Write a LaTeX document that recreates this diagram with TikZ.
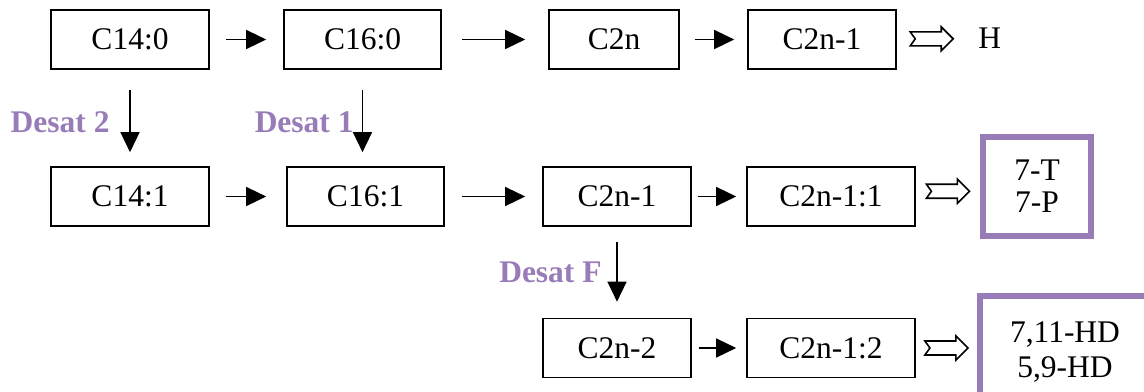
\documentclass[tikz,border=0pt]{standalone}
\usepackage{fontspec}
\setmainfont{Liberation Serif}
\usetikzlibrary{arrows.meta,calc}
\definecolor{desatpurple}{RGB}{152,124,184}

\begin{document}
\begin{tikzpicture}[x=0.5pt,y=-0.5pt,
    font=\fontsize{15.75}{18}\selectfont,
    acid/.style={draw,line width=0.8pt,minimum height=29.5pt,inner sep=0pt},
    product/.style={draw=desatpurple,line width=3pt,align=center,inner sep=0pt},
    flow/.style={line width=0.65pt,-{Triangle[length=10pt,width=9.5pt]}},
    desat/.style={text=desatpurple,font=\fontsize{15.75}{18}\selectfont\bfseries,inner sep=0pt},
    dblarrow/.pic={\draw[line width=0.8pt,line join=miter] (-21.5,-7) -- (9.5,-7) -- (9.5,-12) -- (21.5,0) -- (9.5,12) -- (9.5,7) -- (-21.5,7) -- (-16.5,0) -- cycle;}]
    \clip (0,0) rectangle (1144,391);

    % saturated chain
    \node[acid,minimum width=79pt] (c14a) at (130,39.5) {C14:0};
    \node[acid,minimum width=78.5pt] (c16a) at (362.5,39.5) {C16:0};
    \node[acid,minimum width=65pt] (c2na) at (614,39.5) {C2n};
    \node[acid,minimum width=74pt] (c2n1a) at (822,39.5) {C2n-1};
    \node[anchor=west,inner sep=0pt] (h) at (978,38) {H};

    % monoenes
    \node[acid,minimum width=79pt] (c14b) at (130,196.5) {C14:1};
    \node[acid,minimum width=78.5pt] (c16b) at (365.5,196.5) {C16:1};
    \node[acid,minimum width=74pt] (c2n1b) at (617,196.5) {C2n-1};
    \node[acid,minimum width=84pt] (c2n11b) at (831,196.5) {C2n-1:1};
    \node[product,minimum width=54pt,minimum height=49.5pt,font=\fontsize{15.75}{15.75}\selectfont] (tp) at (1037,186) {7-T\\7-P};

    % dienes
    \node[acid,minimum width=74pt] (c2n2) at (617,348) {C2n-2};
    \node[acid,minimum width=84pt] (c2n12) at (831,348) {C2n-1:2};
    \node[product,minimum width=85pt,minimum height=56pt,font=\fontsize{15.75}{17.5}\selectfont,yshift=-4pt] (hd) at (1065,344) {7,11-HD\\5,9-HD};

    \draw[flow,shorten <=8pt,shorten >=8.5pt] (c14a) -- (c16a);
    \draw[flow,shorten <=10pt,shorten >=11.5pt] (c16a) -- (c2na);
    \draw[flow,shorten <=7.5pt,shorten >=6.5pt] (c2na) -- (c2n1a);
    \draw[flow,shorten <=8pt,shorten >=10pt] (c14b) -- (c16b);
    \draw[flow,shorten <=8.5pt,shorten >=8.5pt] (c16b) -- (c2n1b);
    \draw[flow,shorten <=3pt,shorten >=5pt] (c2n1b) -- (c2n11b);
    \draw[flow,shorten <=3.5pt,shorten >=5pt] (c2n2) -- (c2n12);

    \draw[flow,shorten <=10pt,shorten >=7pt] (c14a) -- (c14b);
    \draw[flow,shorten <=10pt,shorten >=7pt] (c16a.south) -- (c16a.south |- c16b.north);
    \draw[flow,shorten <=7.5pt,shorten >=8pt] (c2n1b) -- (c2n2);

    \node[desat,anchor=east] (d2) at (110,122) {Desat 2};
    \node[desat,anchor=east] (d1) at (354,122) {Desat 1};
    \node[desat,anchor=east] (dF) at (602,272) {Desat F};

    \path ($(c2n1a.east)!0.43!(h.west)$) pic {dblarrow};
    \path ($(c2n11b.east)!0.5!(tp.west)$) pic {dblarrow};
    \path ($(c2n12.east)!0.5!(hd.west |- c2n12)$) pic {dblarrow};
\end{tikzpicture}
\end{document}
